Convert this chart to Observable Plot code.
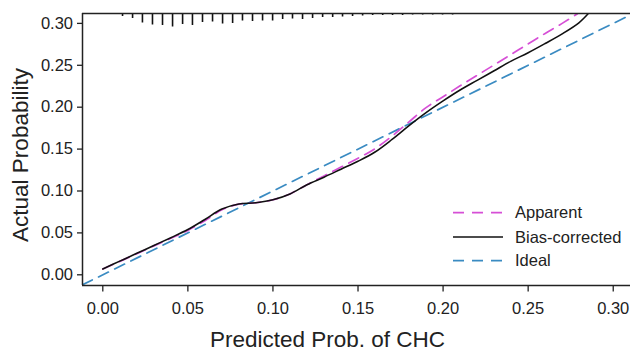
<!DOCTYPE html>
<html>
<head>
<meta charset="utf-8">
<script src="https://cdn.jsdelivr.net/npm/d3@7"></script>
<script src="https://cdn.jsdelivr.net/npm/@observablehq/plot@0.6"></script>
<style>
  html, body { margin: 0; padding: 0; background: #fff; overflow: hidden; }
  #chart svg { display: block; }
</style>
</head>
<body>
<div id="chart"></div>
<script>
// ---- data ----
const xTicks = [0, 0.05, 0.10, 0.15, 0.20, 0.25, 0.30];
const yTicks = [0, 0.05, 0.10, 0.15, 0.20, 0.25, 0.30];

const biasX = [0, 0.01, 0.02, 0.03, 0.04, 0.05, 0.06, 0.07, 0.08, 0.09, 0.10, 0.11, 0.12, 0.13, 0.14, 0.15, 0.16, 0.17, 0.18, 0.19, 0.20, 0.21, 0.22, 0.23, 0.24, 0.25, 0.26, 0.27, 0.28, 0.2855];
const biasY = [0.007, 0.0163, 0.0256, 0.035, 0.0443, 0.054, 0.066, 0.0785, 0.0845, 0.086, 0.0895, 0.0965, 0.1075, 0.1165, 0.126, 0.1355, 0.1465, 0.1615, 0.178, 0.1935, 0.2075, 0.2205, 0.232, 0.2435, 0.255, 0.265, 0.276, 0.2875, 0.301, 0.312];

const apparentX = [0, 0.01, 0.02, 0.03, 0.04, 0.05, 0.06, 0.07, 0.08, 0.09, 0.10, 0.11, 0.12, 0.13, 0.14, 0.15, 0.16, 0.17, 0.18, 0.19, 0.20, 0.21, 0.22, 0.23, 0.24, 0.25, 0.26, 0.27, 0.279];
const apparentY = [0.0068, 0.016, 0.0252, 0.0345, 0.0435, 0.053, 0.0645, 0.0775, 0.0843, 0.086, 0.0895, 0.0965, 0.1075, 0.118, 0.1285, 0.139, 0.1505, 0.1655, 0.1825, 0.1995, 0.2125, 0.2255, 0.238, 0.2505, 0.263, 0.2755, 0.288, 0.300, 0.3115];

const ideal = [-0.012, 0.311];

// spike histogram of predicted probabilities along the top
const rugX = [0.0057, 0.0116, 0.0175, 0.0233, 0.0292, 0.0351, 0.0410, 0.0469, 0.0527, 0.0586, 0.0645, 0.0704, 0.0763, 0.0821, 0.0880, 0.0939, 0.0998, 0.1057, 0.1115, 0.1174, 0.1233, 0.1292, 0.1351, 0.1409, 0.1468, 0.1527, 0.1586, 0.1645, 0.1703, 0.1762, 0.1821, 0.1880, 0.1939, 0.1997, 0.2056, 0.2115, 0.2174, 0.2233, 0.2291, 0.2409];
const rugCount = [1, 3, 5, 9.5, 11.5, 12, 13.5, 11, 12, 9, 8.5, 10.5, 10, 7.5, 8, 7.5, 7.5, 6, 5.5, 6, 5, 4, 4, 3.5, 3, 2.5, 2, 2, 2, 2, 1.5, 1.5, 1.5, 1.5, 1.5, 1, 1, 1, 1, 1];

const seriesNames = ["Apparent", "Bias-corrected", "Ideal"];
const colors = {Apparent: "#d64fd6", "Bias-corrected": "#111111", Ideal: "#3a8bc2"};

// ---- layout ----
const W = 630, H = 351;
const mL = 82, mR = 0, mT = 13, mB = 66;
const xDomain = [-0.01193, 0.31015];
const yDomain = [-0.01277, 0.3118];

const bias = biasX.map((x, i) => ({x, y: biasY[i]}));
const apparent = apparentX.map((x, i) => ({x, y: apparentY[i]}));
const idealPts = ideal.map(v => ({x: v, y: v}));
const rug = rugX.map((x, i) => ({x, n: rugCount[i]}));
const rugUnit = (yDomain[1] - yDomain[0]) / (H - mT - mB); // one count ≈ one pixel

const fmt = d3.format(".2f");
const dash = "11,7";

const plot = Plot.plot({
  width: W, height: H,
  marginLeft: mL, marginRight: mR, marginTop: mT, marginBottom: mB,
  style: {fontFamily: "'Liberation Sans', Arial, sans-serif", fontSize: "16.5px", color: "#222", background: "#fff", overflow: "visible"},
  x: {domain: xDomain, ticks: xTicks, tickFormat: fmt, label: null},
  y: {domain: yDomain, ticks: yTicks, tickFormat: fmt, label: null},
  marks: [
    Plot.axisX({ticks: xTicks, tickFormat: fmt, tickSize: 6.5, tickPadding: 10, label: null, stroke: "#222", strokeWidth: 1.3}),
    Plot.axisY({ticks: yTicks, tickFormat: fmt, tickSize: 5, tickPadding: 4.5, label: null, stroke: "#222", strokeWidth: 1.3}),
    Plot.ruleX(rug, {x: "x", y1: () => yDomain[1], y2: d => yDomain[1] - d.n * rugUnit, stroke: "#111", strokeWidth: 1.6}),
    Plot.line(idealPts, {x: "x", y: "y", stroke: colors.Ideal, strokeWidth: 1.7, strokeDasharray: dash, clip: true}),
    Plot.line(apparent, {x: "x", y: "y", stroke: colors.Apparent, strokeWidth: 1.7, strokeDasharray: dash, curve: "catmull-rom", clip: true}),
    Plot.line(bias, {x: "x", y: "y", stroke: colors["Bias-corrected"], strokeWidth: 1.6, curve: "catmull-rom", clip: true}),
    Plot.ruleY([yDomain[1]], {stroke: "#222", strokeWidth: 1.5}),
    Plot.ruleY([yDomain[0]], {stroke: "#222", strokeWidth: 1.5}),
    Plot.ruleX([xDomain[0]], {stroke: "#222", strokeWidth: 1.5})
  ]
});

document.getElementById("chart").appendChild(plot);

// ---- axis titles and legend ----
const svg = d3.select(plot);
svg.append("text")
  .attr("x", 210).attr("y", 346.5)
  .attr("text-anchor", "start")
  .attr("fill", "#222")
  .style("font-size", "22.5px")
  .text("Predicted Prob. of CHC");
svg.append("text")
  .attr("transform", "translate(28,155) rotate(-90)")
  .attr("text-anchor", "middle")
  .attr("fill", "#222")
  .style("font-size", "22.5px")
  .text("Actual Probability");

const lg = svg.append("g");
const legendY = [212.7, 237, 260.7];
seriesNames.forEach((name, i) => {
  const y = legendY[i];
  lg.append("line")
    .attr("x1", 453).attr("x2", 503).attr("y1", y).attr("y2", y)
    .attr("stroke", colors[name])
    .attr("stroke-width", name === "Bias-corrected" ? 1.6 : 1.7)
    .attr("stroke-dasharray", name === "Bias-corrected" ? null : "11,8");
  lg.append("text")
    .attr("x", 515).attr("y", y).attr("dy", "0.35em")
    .attr("text-anchor", "start")
    .attr("fill", "#222")
    .style("font-size", "16.5px")
    .text(name);
});
</script>
</body>
</html>
